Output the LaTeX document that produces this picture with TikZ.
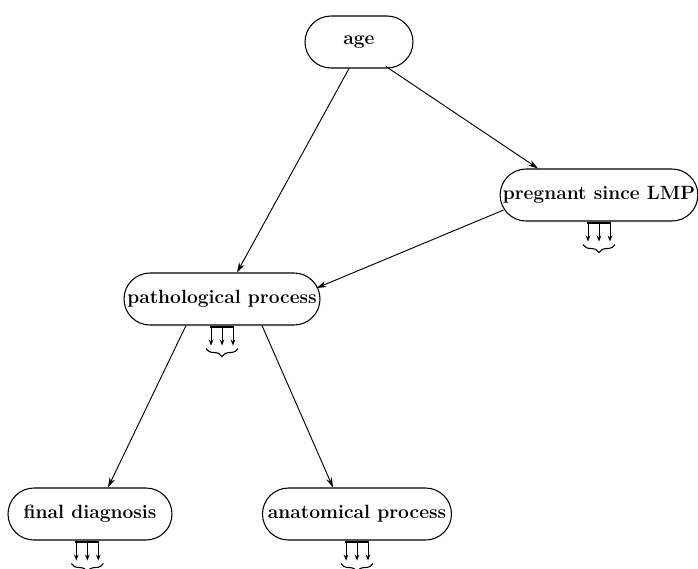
\documentclass[tikz,border=0pt]{standalone}
\usetikzlibrary{arrows.meta,decorations.pathreplacing}
\begin{document}
\begin{tikzpicture}[x=0.75pt,y=-0.75pt,
  var/.style={draw,line width=0.8pt,rectangle,rounded corners=19.5pt,
    minimum height=39pt,inner sep=2pt,font=\fontsize{14.4}{16}\selectfont\bfseries},
  link/.style={line width=0.7pt,-{Stealth[length=7.5pt,width=4.5pt]}},
  fan/.pic={
    \draw[line width=1pt] (-12,1.5) -- (12,1.5);
    \foreach \dx in {-11,0,11}
      \draw[line width=0.7pt,-{Stealth[length=4.5pt,width=3.5pt]}] (\dx,1.5) -- (\dx,20);
    \draw[line width=0.8pt,decorate,decoration={brace,mirror,amplitude=6pt}] (-16,23) -- (16,23);
  }]
\useasboundingbox (0,0) rectangle (698,568);

% variables
\node[var,minimum width=81pt]     (age)  at (359,42)  {age};
\node[var,minimum width=147pt]    (preg) at (599,195) {pregnant since LMP};
\node[var,minimum width=147pt]    (path) at (222,299) {pathological process};
\node[var,minimum width=123pt]    (fin)  at (90,514)  {final diagnosis};
\node[var,minimum width=141.75pt] (anat) at (357,514) {anatomical process};

% dependencies
\draw[link] ([xshift=-7.5pt]age.south) -- ([xshift=11.25pt]path.north);
\draw[link] ([xshift=20.25pt,yshift=1.5pt]age.south) -- ([xshift=-45.75pt]preg.north);
\draw[link] ([xshift=3pt,yshift=-11.25pt]preg.west) -- ([xshift=-3pt,yshift=8.25pt]path.east);
\draw[link] ([xshift=-27pt]path.south) -- ([xshift=13.5pt]fin.north);
\draw[link] ([xshift=30pt]path.south) -- ([xshift=-18pt]anat.north);

% outcome fans
\pic at (preg.south) {fan};
\pic at (path.south) {fan};
\pic at ([xshift=-2pt]fin.south) {fan};
\pic at (anat.south) {fan};
\end{tikzpicture}
\end{document}
